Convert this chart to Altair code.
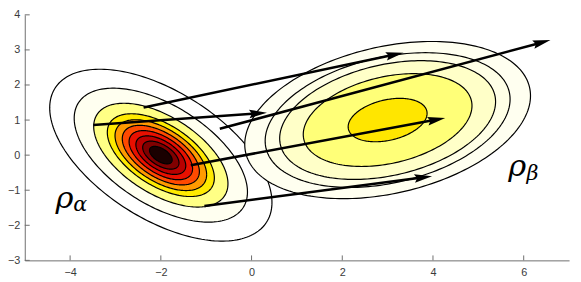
import numpy as np
import pandas as pd
import altair as alt

# ---- data ----
ALPHA_CENTER = (-2.0, 0.0)
ALPHA_COV = [[1.0, -0.55], [-0.55, 1.0]]
ALPHA_RADII = [2.45, 1.91, 1.48, 1.18, 1.01, 0.85, 0.70, 0.55, 0.40, 0.25]
ALPHA_FILLS = ["#ffffff", "#fffff0", "#ffff85", "#ffea00", "#ff9a00",
               "#ff4a00", "#e81000", "#b80000", "#800000", "#1a0000"]

BETA_CENTER = (3.0, 1.0)
BETA_COV = [[1.0, 0.22], [0.22, 0.506]]
BETA_RADII = [3.15, 2.70, 2.38, 1.86, 0.87]
BETA_FILLS = ["#fffff0", "#ffffe6", "#ffffc8", "#ffff78", "#ffe600"]

ARROW_X0 = [-2.38, -3.49, -0.70, -1.34, -1.04]
ARROW_Y0 = [1.36, 0.86, 0.75, -0.29, -1.45]
ARROW_X1 = [3.35, 0.34, 6.59, 4.27, 3.98]
ARROW_Y1 = [2.92, 1.21, 3.28, 1.06, -0.60]

X_TICKS = [-4, -2, 0, 2, 4, 6]
Y_TICKS = [-3, -2, -1, 0, 1, 2, 3, 4]
X_DOMAIN = [-5, 7]
Y_DOMAIN = [-3, 4]

LABELS_MAIN = ["ρ", "ρ"]
LABELS_MAIN_X = [-4.32, 5.66]
LABELS_MAIN_Y = [-1.50, -0.60]
LABELS_SUB = ["α", "β"]
LABELS_SUB_X = [-3.93, 6.06]
LABELS_SUB_Y = [-1.60, -0.70]

# ---- layout ----
W, H = 552, 249
kx = W / (X_DOMAIN[1] - X_DOMAIN[0])
ky = H / (Y_DOMAIN[1] - Y_DOMAIN[0])
AXIS_GRAY = "#6e6e6e"
MATH_FONT = "DejaVu Serif"

xscale = alt.Scale(domain=X_DOMAIN, nice=False, zero=False)
yscale = alt.Scale(domain=Y_DOMAIN, nice=False, zero=False)
xaxis = alt.Axis(values=X_TICKS, title=None, grid=False, ticks=False,
                 domainColor=AXIS_GRAY, labelColor="#3a3a3a",
                 labelFont="Liberation Sans", labelFontSize=11, labelPadding=6)
yaxis = alt.Axis(values=Y_TICKS, title=None, grid=False, ticks=False,
                 domainColor=AXIS_GRAY, labelColor="#3a3a3a",
                 labelFont="Liberation Sans", labelFontSize=11, labelPadding=5)


def X(f="x"):
    return alt.X(f"{f}:Q", scale=xscale, axis=xaxis)


def Y(f="y"):
    return alt.Y(f"{f}:Q", scale=yscale, axis=yaxis)


def ellipse_df(center, cov, r, n=200):
    L = np.linalg.cholesky(np.array(cov))
    t = np.linspace(0, 2 * np.pi, n + 1)
    u = np.vstack([np.cos(t), np.sin(t)])
    p = (L @ u) * r
    return pd.DataFrame({"x": center[0] + p[0], "y": center[1] + p[1],
                         "i": np.arange(n + 1)})


layers = []
for center, cov, radii, fills in [(ALPHA_CENTER, ALPHA_COV, ALPHA_RADII, ALPHA_FILLS),
                                  (BETA_CENTER, BETA_COV, BETA_RADII, BETA_FILLS)]:
    for r, col in zip(radii, fills):
        d = ellipse_df(center, cov, r)
        layers.append(
            alt.Chart(d).mark_line(fill=col, stroke="black", strokeWidth=1.2)
            .encode(x=X(), y=Y(), order="i:Q")
        )

# arrows
x0 = np.array(ARROW_X0); y0 = np.array(ARROW_Y0)
x1 = np.array(ARROW_X1); y1 = np.array(ARROW_Y1)
dxp = (x1 - x0) * kx
dyp = -(y1 - y0) * ky
ang = np.degrees(np.arctan2(dyp, dxp))
lenp = np.hypot(dxp, dyp)
back = 10.0
xe = x1 - (dxp / lenp) * back / kx
ye = y1 + (dyp / lenp) * back / ky
arr = pd.DataFrame({"x": x0, "y": y0, "x2": xe, "y2": ye,
                    "tx": x1, "ty": y1, "ang": np.mod(ang, 360)})

layers.append(
    alt.Chart(arr).mark_rule(color="black", strokeWidth=2.6, strokeCap="butt")
    .encode(x=X(), y=Y(), x2="x2:Q", y2="y2:Q")
)
HEAD = "M0,0L-1,-0.24L-0.85,0L-1,0.24Z"
layers.append(
    alt.Chart(arr).mark_point(shape=HEAD, filled=True, color="black", opacity=1,
                              size=(2 * 18) ** 2, strokeWidth=0)
    .encode(x=X("tx"), y=Y("ty"), angle=alt.Angle("ang:Q", scale=None))
)

# inward ticks
xt = pd.DataFrame({"x": X_TICKS})
yt = pd.DataFrame({"y": Y_TICKS})
layers.append(
    alt.Chart(xt).mark_rule(color=AXIS_GRAY, strokeWidth=1)
    .encode(x=X(), y=alt.value(H), y2=alt.value(H - 5))
)
layers.append(
    alt.Chart(yt).mark_rule(color=AXIS_GRAY, strokeWidth=1)
    .encode(y=Y(), x=alt.value(0), x2=alt.value(5))
)

# labels
lm = pd.DataFrame({"x": LABELS_MAIN_X, "y": LABELS_MAIN_Y, "t": LABELS_MAIN})
ls = pd.DataFrame({"x": LABELS_SUB_X, "y": LABELS_SUB_Y, "t": LABELS_SUB})
layers.append(
    alt.Chart(lm).mark_text(font=MATH_FONT, fontStyle="italic", fontSize=31,
                            align="left", baseline="alphabetic", color="black")
    .encode(x=X(), y=Y(), text="t:N")
)
layers.append(
    alt.Chart(ls).mark_text(font=MATH_FONT, fontStyle="italic", fontSize=21,
                            align="left", baseline="alphabetic", color="black")
    .encode(x=X(), y=Y(), text="t:N")
)

chart = (
    alt.layer(*layers)
    .properties(width=W, height=H,
                autosize=alt.AutoSizeParams(type="none"),
                padding={"left": 17, "top": 5, "right": 4, "bottom": 20})
    .configure_view(stroke=None)
)

chart.save("out.html", embed_options={"renderer": "svg", "actions": False})
